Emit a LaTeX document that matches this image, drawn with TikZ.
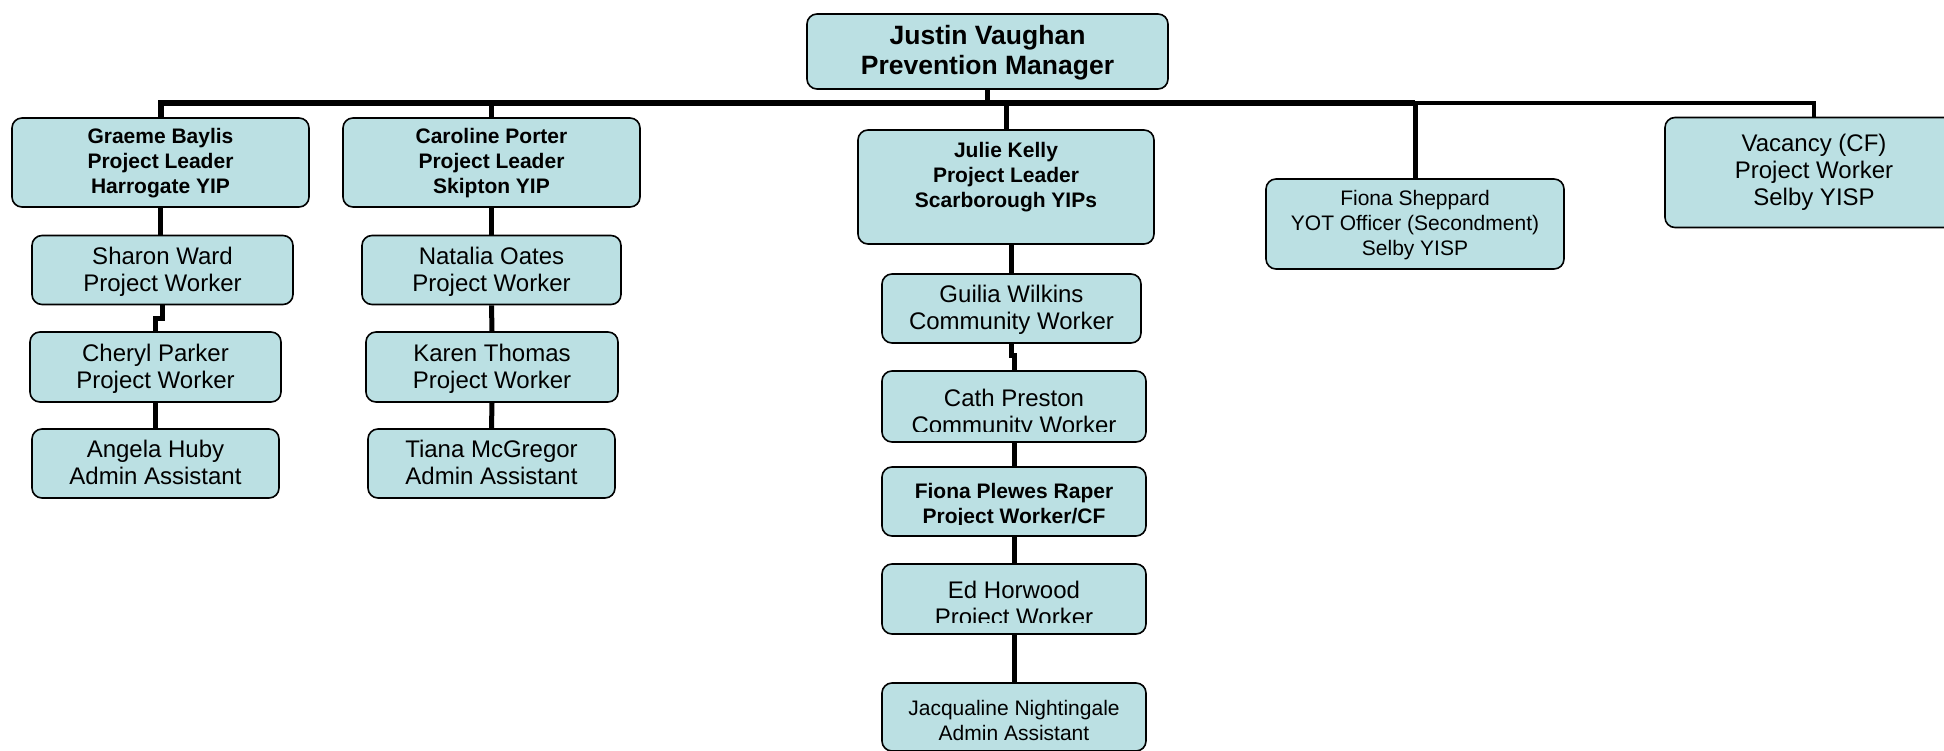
\documentclass[tikz,border=0pt]{standalone}
\usepackage{fontspec}
\setmainfont{Liberation Sans}
\definecolor{boxfill}{RGB}{187,224,227}
\begin{document}
\begin{tikzpicture}[x=1pt,y=-1pt,
  orgbox/.style={draw=black, line width=1.6pt, fill=boxfill, rounded corners=10pt, inner sep=0pt},
  conn/.style={line width=5pt},
  busline/.style={line width=6pt},
  busthin/.style={line width=4.5pt},
  ra/.style={anchor=base, inner sep=0pt, font=\fontsize{24}{28}\selectfont},
  rb/.style={anchor=base, inner sep=0pt, font=\fontsize{21}{25}\selectfont},
  bb/.style={anchor=base, inner sep=0pt, font=\fontsize{21}{25}\selectfont\bfseries},
  tb/.style={anchor=base, inner sep=0pt, font=\fontsize{26.5}{31}\selectfont\bfseries}]
\useasboundingbox (0,0) rectangle (1944,751);
\clip (0,0) rectangle (1944,751);

% ---- boxes ----
\node[orgbox, minimum width=361, minimum height=75] (justin) at (987.5,51.5) {};
\node[orgbox, minimum width=297, minimum height=89] (graeme) at (160.5,162.5) {};
\node[orgbox, minimum width=297, minimum height=89] (caroline) at (491.5,162.5) {};
\node[orgbox, minimum width=296, minimum height=114] (julie) at (1006,187) {};
\node[orgbox, minimum width=298, minimum height=90] (fionas) at (1415,224) {};
\node[orgbox, minimum width=298, minimum height=110] (vac) at (1814,172.5) {};

\node[orgbox, minimum width=261, minimum height=69] (sharon) at (162.5,270) {};
\node[orgbox, minimum width=251, minimum height=70] (cheryl) at (155.5,367) {};
\node[orgbox, minimum width=247, minimum height=69] (angela) at (155.5,463.5) {};

\node[orgbox, minimum width=259, minimum height=69] (natalia) at (491.5,270) {};
\node[orgbox, minimum width=252, minimum height=70] (karen) at (492,367) {};
\node[orgbox, minimum width=247, minimum height=69] (tiana) at (491.5,463.5) {};

\node[orgbox, minimum width=259, minimum height=69] (guilia) at (1011.5,308.5) {};
\node[orgbox, minimum width=264, minimum height=71] (cath) at (1014,406.5) {};
\node[orgbox, minimum width=264, minimum height=69] (fpr) at (1014,501.5) {};
\node[orgbox, minimum width=264, minimum height=70] (ed) at (1014,599) {};
\node[orgbox, minimum width=264, minimum height=68] (jacq) at (1014,717) {};

% ---- bus and stems ----
\coordinate (busL) at (160.5,103);
\coordinate (busM) at (1415,103);
\coordinate (busR) at (1814,103);
\draw[busline] (graeme.north) -- (busL) -- (busM);
\draw[busthin] (busM) -- (busR) -- (vac.north);
\draw[conn] (justin.south) -- (justin.south |- busL);
\draw[conn] (caroline.north) -- (caroline.north |- busL);
\draw[conn] (julie.north) -- (julie.north |- busL);
\draw[conn] (fionas.north) -- (fionas.north |- busL);

% ---- columns ----
\draw[conn] (graeme.south) -- (graeme.south |- sharon.north);
\draw[conn] (sharon.south) -- ++(0,13) -| (cheryl.north);
\draw[conn] (cheryl.south) -- (angela.north);

\draw[conn] (caroline.south) -- (natalia.north);
\draw[conn] (natalia.south) -- (karen.north);
\draw[conn] (karen.south) -- (tiana.north);

\draw[conn] (guilia.north |- julie.south) -- (guilia.north);
\draw[conn] (guilia.south) -- ++(0,12) -| (cath.north);
\draw[conn] (cath.south) -- (fpr.north);
\draw[conn] (fpr.south) -- (ed.north);
\draw[conn] (ed.south) -- (jacq.north);

% ---- texts ----
\node[tb] (justin-a) at (987.5,44.5) {Justin Vaughan};
\node[tb] (justin-b) at (987.5,74.5) {Prevention Manager};

\node[bb] (graeme-a) at (160.5,143.6) {Graeme Baylis};
\node[bb] (graeme-b) at (160.5,168.6) {Project Leader};
\node[bb] (graeme-c) at (160.5,193.6) {Harrogate YIP};

\node[bb] (caroline-a) at (491.5,143.6) {Caroline Porter};
\node[bb] (caroline-b) at (491.5,168.6) {Project Leader};
\node[bb] (caroline-c) at (491.5,193.6) {Skipton YIP};

\node[bb] (julie-a) at (1006,157.6) {Julie Kelly};
\node[bb] (julie-b) at (1006,182.6) {Project Leader};
\node[bb] (julie-c) at (1006,207.6) {Scarborough YIPs};

\node[rb] (fionas-a) at (1415,205.6) {Fiona Sheppard};
\node[rb] (fionas-b) at (1415,230.6) {YOT Officer (Secondment)};
\node[rb] (fionas-c) at (1415,255.6) {Selby YISP};

\node[ra] (vac-a) at (1814,151.6) {Vacancy (CF)};
\node[ra] (vac-b) at (1814,178.6) {Project Worker};
\node[ra] (vac-c) at (1814,205.6) {Selby YISP};

\node[ra] (sharon-a) at (162.5,264.6) {Sharon Ward};
\node[ra] (sharon-b) at (162.5,291.6) {Project Worker};
\node[ra] (cheryl-a) at (155.5,361.6) {Cheryl Parker};
\node[ra] (cheryl-b) at (155.5,388.6) {Project Worker};
\node[ra] (angela-a) at (155.5,457.6) {Angela Huby};
\node[ra] (angela-b) at (155.5,484.6) {Admin Assistant};

\node[ra] (natalia-a) at (491.5,264.6) {Natalia Oates};
\node[ra] (natalia-b) at (491.5,291.6) {Project Worker};
\node[ra] (karen-a) at (492,361.6) {Karen Thomas};
\node[ra] (karen-b) at (492,388.6) {Project Worker};
\node[ra] (tiana-a) at (491.5,457.6) {Tiana McGregor};
\node[ra] (tiana-b) at (491.5,484.6) {Admin Assistant};

\node[ra] (guilia-a) at (1011.5,302.6) {Guilia Wilkins};
\node[ra] (guilia-b) at (1011.5,329.6) {Community Worker};

\node[ra] (cath-a) at (1014,406.6) {Cath Preston};
\begin{scope}
  \clip (880,360) rectangle (1150,431);
  \node[ra] (cath-b) at (1014,433.6) {Community Worker};
\end{scope}

\node[bb] (fpr-a) at (1014,498.6) {Fiona Plewes Raper};
\begin{scope}
  \clip (880,460) rectangle (1150,524);
  \node[bb] (fpr-b) at (1014,523.6) {Project Worker/CF};
\end{scope}

\node[ra] (ed-a) at (1014,598.6) {Ed Horwood};
\begin{scope}
  \clip (880,560) rectangle (1150,622);
  \node[ra] (ed-b) at (1014,625.6) {Project Worker};
\end{scope}

\node[rb] (jacq-a) at (1014,715.6) {Jacqualine Nightingale};
\node[rb] (jacq-b) at (1014,740.6) {Admin Assistant};
\end{tikzpicture}
\end{document}
